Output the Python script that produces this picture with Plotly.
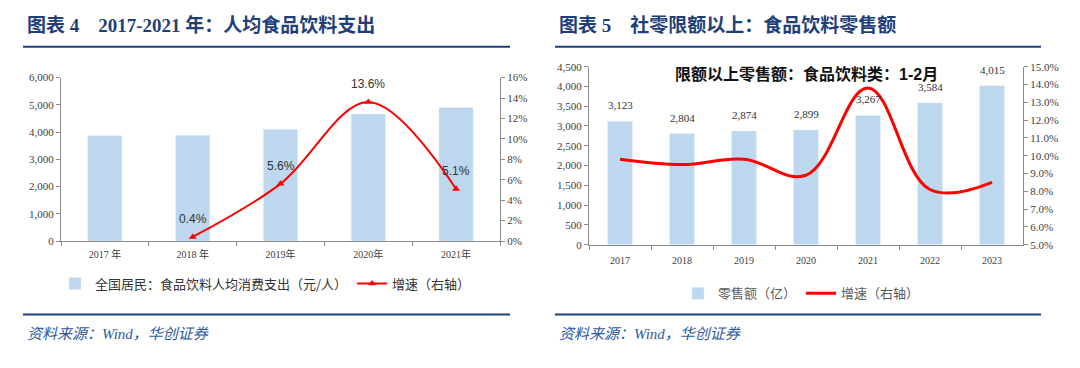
import plotly.graph_objects as go

# ---------- data ----------
left_years = ["2017 年", "2018 年", "2019年", "2020年", "2021年"]
left_spend = [3870, 3885, 4100, 4660, 4900]          # 元/人
left_growth = [None, 0.004, 0.056, 0.136, 0.051]      # 右轴
left_growth_labels = ["", "0.4%", "5.6%", "13.6%", "5.1%"]

right_years = ["2017", "2018", "2019", "2020", "2021", "2022", "2023"]
right_sales = [3123, 2804, 2874, 2899, 3267, 3584, 4015]   # 亿
right_growth = [0.098, 0.095, 0.098, 0.089, 0.138, 0.081, 0.085]

W, H = 1080, 368
BAR = "#BDD7EE"
RED = "#FF0000"
AX = "#8C8C8C"
NAVY = "#1F3F7A"
TICKFONT = dict(family="Liberation Serif, Noto Sans CJK SC", size=11, color="#404040")


def px(x):
    return x / W


def py(y):
    return (H - y) / H


fig = go.Figure()

# ---------- left panel ----------
fig.add_trace(go.Bar(x=left_years, y=left_spend, marker_color=BAR, width=0.39,
                     name="全国居民：食品饮料人均消费支出（元/人）",
                     xaxis="x", yaxis="y", legend="legend"))
fig.add_trace(go.Scatter(x=left_years, y=left_growth, mode="lines+markers",
                         line=dict(color=RED, width=2, shape="spline", smoothing=1.0),
                         marker=dict(symbol="triangle-up", size=7, color=RED),
                         name="增速（右轴）", xaxis="x", yaxis="y2", legend="legend"))

annotations = []
for i, (yv, lab) in enumerate(zip(left_growth, left_growth_labels)):
    if yv is None:
        continue
    annotations.append(dict(x=i, y=yv, xref="x", yref="y2", text=lab, showarrow=False,
                            yshift=18, font=dict(family="Liberation Sans, Noto Sans CJK SC",
                                                 size=12, color="#333333")))

# ---------- right panel ----------
fig.add_trace(go.Bar(x=right_years, y=right_sales, marker_color=BAR, width=0.4,
                     name="零售额（亿）", xaxis="x2", yaxis="y3", legend="legend2"))
fig.add_trace(go.Scatter(x=right_years, y=right_growth, mode="lines",
                         line=dict(color=RED, width=3, shape="spline", smoothing=1.1),
                         name="增速（右轴）", xaxis="x2", yaxis="y4", legend="legend2"))

for i, yv in enumerate(right_sales):
    annotations.append(dict(x=i, y=yv, xref="x2", yref="y3", text=f"{yv:,}", showarrow=False,
                            yshift=16, font=dict(family="Liberation Serif", size=11, color="#333333")))

# ---------- titles / sources ----------
TITLE_FONT = dict(family="Liberation Serif, Noto Sans CJK SC", size=19, color=NAVY)
SRC_FONT = dict(family="Liberation Serif, Noto Sans CJK SC", size=15, color="#2C5AA0")
annotations += [
    dict(x=px(25), y=py(20), xref="paper", yref="paper", xanchor="left", yanchor="middle",
         text="<b>图表 4    2017-2021 年：人均食品饮料支出</b>", showarrow=False, font=TITLE_FONT),
    dict(x=px(557), y=py(20), xref="paper", yref="paper", xanchor="left", yanchor="middle",
         text="<b>图表 5    社零限额以上：食品饮料零售额</b>", showarrow=False, font=TITLE_FONT),
    dict(x=px(25), y=py(339), xref="paper", yref="paper", xanchor="left", yanchor="middle",
         text="<i>资料来源：Wind，华创证券</i>", showarrow=False, font=SRC_FONT),
    dict(x=px(557), y=py(339), xref="paper", yref="paper", xanchor="left", yanchor="middle",
         text="<i>资料来源：Wind，华创证券</i>", showarrow=False, font=SRC_FONT),
    dict(x=px(806), y=py(70), xref="paper", yref="paper", xanchor="center", yanchor="middle",
         text="<b>限额以上零售额：食品饮料类：1-2月</b>", showarrow=False,
         font=dict(family="Liberation Sans, Noto Sans CJK SC", size=16, color="#111111")),
]

shapes = [
    dict(type="line", xref="paper", yref="paper", x0=px(23), x1=px(510), y0=py(42), y1=py(42),
         line=dict(color=NAVY, width=2)),
    dict(type="line", xref="paper", yref="paper", x0=px(23), x1=px(510), y0=py(319), y1=py(319),
         line=dict(color=NAVY, width=2)),
    dict(type="line", xref="paper", yref="paper", x0=px(555), x1=px(1041), y0=py(42), y1=py(42),
         line=dict(color=NAVY, width=2)),
    dict(type="line", xref="paper", yref="paper", x0=px(555), x1=px(1041), y0=py(319), y1=py(319),
         line=dict(color=NAVY, width=2)),
]

common_x = dict(type="category", showline=True, linecolor=AX, linewidth=1, ticks="outside",
                tickson="boundaries", ticklen=4, tickcolor=AX, showgrid=False,
                tickfont=dict(family="Liberation Serif, Noto Sans CJK SC", size=10, color="#404040"))
common_y = dict(showline=True, linecolor=AX, linewidth=1, ticks="outside", ticklen=4,
                tickcolor=AX, showgrid=False, zeroline=False, tickfont=TICKFONT)

fig.update_layout(
    width=W, height=H, margin=dict(l=0, r=0, t=0, b=0),
    paper_bgcolor="white", plot_bgcolor="white",
    xaxis=dict(common_x, domain=[px(61), px(500)], anchor="y",
               range=[-0.5, len(left_years) - 0.5], ticklabelstandoff=4),
    yaxis=dict(common_y, domain=[py(243), py(74)], range=[0, 6000], dtick=1000,
               tickformat=",", anchor="x"),
    yaxis2=dict(common_y, overlaying="y", side="right", range=[0, 0.16], dtick=0.02,
                tickformat=".0%", anchor="x"),
    xaxis2=dict(common_x, domain=[px(589), px(1023)], anchor="y3",
                range=[-0.5, len(right_years) - 0.5], ticklabelstandoff=6),
    yaxis3=dict(common_y, domain=[py(246.7), py(62.7)], range=[0, 4500], dtick=500,
                tickformat=",", anchor="x2"),
    yaxis4=dict(common_y, overlaying="y3", side="right", range=[0.05, 0.15], dtick=0.01,
                tickformat=".1%", anchor="x2"),
    legend=dict(orientation="h", x=px(55), y=py(287), xanchor="left", yanchor="middle",
                font=dict(family="Noto Sans CJK SC", size=13, color="#333333"),
                bgcolor="rgba(0,0,0,0)", traceorder="normal"),
    legend2=dict(orientation="h", x=px(678), y=py(297), xanchor="left", yanchor="middle",
                 font=dict(family="Noto Sans CJK SC", size=13, color="#595959"),
                 bgcolor="rgba(0,0,0,0)", traceorder="normal"),
    annotations=annotations,
    shapes=shapes,
    showlegend=True,
)

fig.write_html("out.html", config={"displayModeBar": False},
               post_script="document.body.style.margin='0';")
